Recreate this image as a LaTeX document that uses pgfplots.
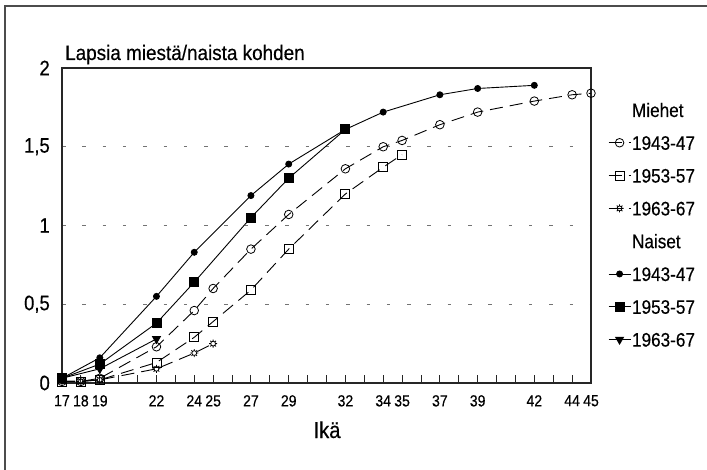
\documentclass[border=0pt]{standalone}
\usepackage{fontspec}
\setmainfont[FakeStretch=0.88, FakeBold=0.4]{Liberation Sans}
\newfontfamily\titlefont[FakeStretch=0.9, FakeBold=0.4]{Liberation Sans}
\usepackage{pgfplots}
\pgfplotsset{compat=1.18}
\pgfdeclareplotmark{sun}{%
  \pgfpathcircle{\pgfpointorigin}{0.6\pgfplotmarksize}%
  \foreach \a in {0,45,...,315}{%
    \pgfpathmoveto{\pgfpointpolar{\a}{0.6\pgfplotmarksize}}%
    \pgfpathlineto{\pgfpointpolar{\a}{\pgfplotmarksize}}%
  }%
  \pgfusepathqstroke
}
\newcommand\fs[1]{\fontsize{#1}{#1}\selectfont}
\begin{document}
\begin{tikzpicture}[x=1pt,y=1pt]
\useasboundingbox (0,0) rectangle (707,-470);
\draw[black!70, line width=1.2pt] (5,-470) -- (5,-6) -- (707,-6);
\node[anchor=base west, inner sep=0pt, font=\titlefont\fs{21}] at (65,-60) {Lapsia miestä/naista kohden};
\node[anchor=base, inner sep=0pt, font=\fs{23}] at (327,-438) {Ikä};
\begin{axis}[
  at={(62pt,-383pt)}, anchor=south west,
  scale only axis, width=529pt, height=315pt,
  xmin=17, xmax=45, ymin=0, ymax=2,
  clip=false,
  axis line style={line width=1.2pt, black!85},
  xtick={17,...,45},
  xticklabels={17,18,19,{},{},22,{},24,25,{},27,{},29,{},{},32,{},34,35,{},37,{},39,{},{},42,{},44,45},
  xtick pos=bottom, xtick align=inside,
  major tick length=8pt,
  x tick style={line width=0.9pt, black!85},
  xticklabel style={font=\fs{16}, inner sep=0pt, yshift=-12pt},
  ytick={0,0.5,1,1.5,2},
  yticklabels={0,{0,5},1,{1,5},2},
  y tick style={draw=none},
  yticklabel style={font=\fs{21}, inner sep=0pt, xshift=-12pt},
  ymajorgrids,
  grid style={black!55, line width=0.8pt, dash pattern=on 3.5pt off 16.8pt},
  legend cell align=left,
  legend style={draw=none, fill=none, at={(1.032,0.896)}, anchor=north west,
    inner sep=0pt, row sep=14.8pt, font=\fs{19.5},
    nodes={inner xsep=1pt, inner ysep=2pt, text height=14pt, text depth=0pt}},
  legend image code/.code={%
    \draw[mark repeat=2,mark phase=2] plot coordinates {(0pt,0pt)(11pt,0pt)(22pt,0pt)};},
]
\addlegendimage{empty legend}
\addlegendentry{Miehet}
% Miehet 1943-47
\addplot[black, line width=0.9pt, dash pattern=on 13pt off 7pt, mark=o, mark size=4.3pt, mark options={solid, line width=0.8pt}]
coordinates {(17,0.01)(18,0.01)(19,0.03)(22,0.23)(24,0.46)(25,0.60)(27,0.85)(29,1.07)(32,1.36)(34,1.50)(35,1.54)(37,1.64)(39,1.72)(42,1.79)(44,1.83)(45,1.84)};
\addlegendentry{1943-47}
% Miehet 1953-57
\addplot[black, line width=0.9pt, dash pattern=on 13pt off 7pt, mark=square, mark size=4.5pt, mark options={solid, line width=0.8pt}]
coordinates {(17,0.01)(18,0.01)(19,0.02)(22,0.13)(24,0.29)(25,0.39)(27,0.59)(29,0.85)(32,1.20)(34,1.37)(35,1.45)};
\addlegendentry{1953-57}
% Miehet 1963-67
\addplot[black, line width=0.9pt, dash pattern=on 13pt off 7pt, mark=sun, mark size=4pt, mark options={solid, line width=0.8pt}]
coordinates {(17,0.01)(18,0.01)(19,0.02)(22,0.09)(24,0.19)(25,0.25)};
\addlegendentry{1963-67}
\addlegendimage{empty legend}
\addlegendentry{Naiset}
% Naiset 1943-47
\addplot[black, line width=0.9pt, solid, mark=*, mark size=3pt, mark options={fill=black}]
coordinates {(17,0.03)(19,0.16)(22,0.55)(24,0.83)(27,1.19)(29,1.39)(32,1.61)(34,1.72)(37,1.83)(39,1.87)(42,1.89)};
\addlegendentry{1943-47}
% Naiset 1953-57
\addplot[black, line width=0.9pt, solid, mark=square*, mark size=4.5pt, mark options={fill=black}]
coordinates {(17,0.03)(19,0.12)(22,0.38)(24,0.64)(27,1.05)(29,1.30)(32,1.61)};
\addlegendentry{1953-57}
% Naiset 1963-67
\addplot[black, line width=0.9pt, solid, mark=triangle*, mark size=4.5pt, mark options={fill=black, rotate=180}]
coordinates {(17,0.03)(19,0.09)(22,0.28)};
\addlegendentry{1963-67}
\end{axis}
\end{tikzpicture}
\end{document}
